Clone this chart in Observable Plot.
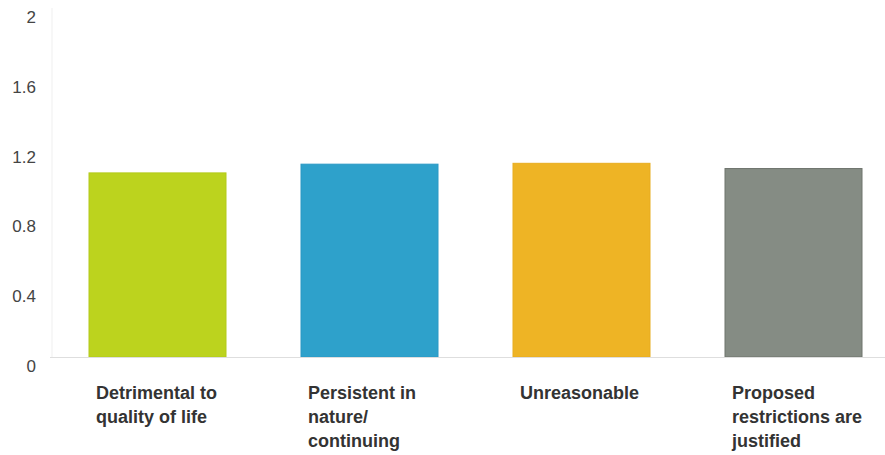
<!DOCTYPE html>
<html>
<head>
<meta charset="utf-8">
<script src="https://cdn.jsdelivr.net/npm/d3@7"></script>
<script src="https://cdn.jsdelivr.net/npm/@observablehq/plot@0.6"></script>
<style>
  html, body { margin: 0; padding: 0; background: #fff; }
  #chart svg { display: block; }
</style>
</head>
<body>
<div id="chart"></div>
<script>
const categories = ["Detrimental to quality of life", "Persistent in nature/ continuing", "Unreasonable", "Proposed restrictions are justified"];
const labels = ["Detrimental to\nquality of life", "Persistent in\nnature/\ncontinuing", "Unreasonable", "Proposed\nrestrictions are\njustified"];
const values = [1.055, 1.105, 1.11, 1.08];
const colors = ["#bcd31e", "#2ea1cb", "#eeb425", "#858c84"];
const strokes = ["#b3ca1a", "#2a98c4", "#e8ad20", "#6e746d"];
const yTicks = [0, 0.4, 0.8, 1.2, 1.6, 2];

const data = categories.map((c, i) => ({cat: c, label: labels[i], value: values[i], color: colors[i], stroke: strokes[i]}));

const chart = Plot.plot({
  width: 885,
  height: 455,
  marginTop: 8,
  marginBottom: 98,
  marginLeft: 50,
  marginRight: 0,
  style: {fontFamily: "Liberation Sans, Arial, sans-serif", background: "#fff"},
  x: {domain: categories, range: [50, 900], paddingInner: 0.356, paddingOuter: 0.178, align: 0.5, axis: null},
  y: {domain: [0, 2], range: [357, 8], axis: null},
  marks: [
    Plot.ruleX([0], {x: () => categories[0], dx: -106, y1: 0, y2: 2, stroke: "#efefef", strokeWidth: 1}),
    Plot.barY(data, {x: "cat", y: "value", fill: "color", stroke: "stroke", strokeWidth: 1}),
    Plot.ruleY([0], {stroke: "#dedede", strokeWidth: 1.2}),
    Plot.text(yTicks, {x: () => categories[0], y: d => d, text: d => String(d), dx: -122, dy: 9, textAnchor: "end", fontSize: 17, fill: "#444"}),
    Plot.text(data, {x: "cat", y: 0, text: "label", textAnchor: "start", lineAnchor: "top", lineHeight: 1.33, dx: -62, dy: 25, fontSize: 18, fontWeight: "bold", fill: "#333"})
  ]
});
document.getElementById("chart").appendChild(chart);
</script>
</body>
</html>
